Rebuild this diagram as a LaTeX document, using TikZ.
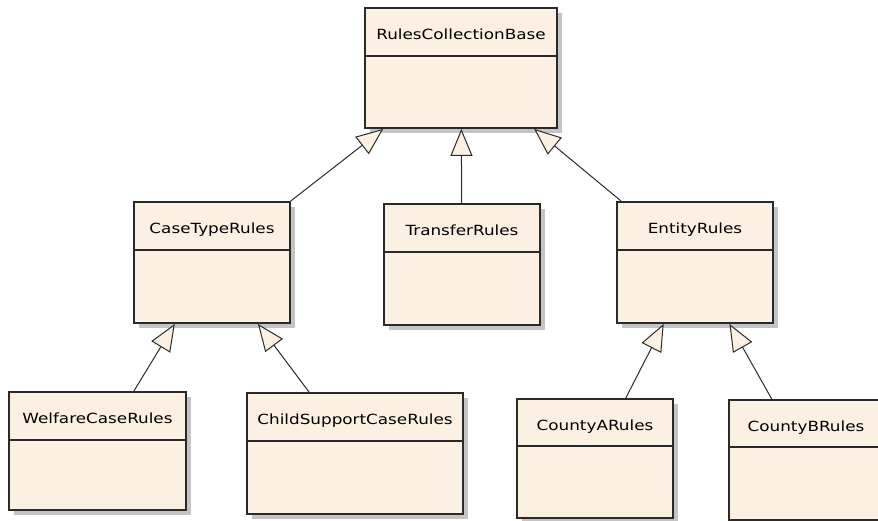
\documentclass[tikz,border=0pt]{standalone}
\usepackage{fontspec}
\usepackage{graphicx}
\setsansfont{DejaVu Sans}
\usetikzlibrary{arrows.meta,fit,shadows,calc}

\definecolor{boxfill}{HTML}{FBF0E2}
\definecolor{boxline}{HTML}{2A2A2A}
\definecolor{shadowgray}{HTML}{C4C4C4}

\tikzset{
  classbox/.style={draw=boxline, line width=1.8pt, fill=boxfill, inner sep=0pt,
    drop shadow={shadow xshift=5pt, shadow yshift=-5pt, fill=shadowgray, opacity=1}},
  classrule/.style={draw=boxline, line width=1.8pt},
  classtitle/.style={anchor=base, inner sep=0pt,
    font=\sffamily\fontsize{14}{16}\selectfont, text=black},
  inherit/.style={draw=boxline, line width=1pt,
    -{Triangle[length=27pt, width=22pt, fill=boxfill, line width=1pt]}},
}

% UML class box: name, left, top, right, separator y, bottom, title
\newcommand\umlclass[7]{%
  \node[classbox, fit={(#2,#3) (#4,#6)}] (#1) {};
  \draw[classrule] (#2,#5) -- (#4,#5);
  \node[classtitle] (#1-title) at ($(#1.north)+(0,32.5)$) {\scalebox{1.2}[1]{#7}};
}

\begin{document}
\begin{tikzpicture}[x=1pt, y=-1pt]
  \useasboundingbox (0,0) rectangle (878,521);
  \clip (0,0) rectangle (878,521);

  \umlclass{base}{365}{8}{557}{56}{128}{RulesCollectionBase}
  \umlclass{casetype}{134}{202}{290}{250}{323}{CaseTypeRules}
  \umlclass{transfer}{384}{204}{540}{252}{325}{TransferRules}
  \umlclass{entity}{617}{202}{773}{250}{323}{EntityRules}
  \umlclass{welfare}{9}{392}{186}{440}{510}{WelfareCaseRules}
  \umlclass{child}{247}{393}{463}{441}{514}{ChildSupportCaseRules}
  \umlclass{countya}{517}{399}{673}{446}{518}{CountyARules}
  \umlclass{countyb}{729}{400}{883}{447}{520}{CountyBRules}

  % generalisation arrows
  \draw[inherit] (casetype) -- (base);
  \draw[inherit] (transfer) -- (base);
  \draw[inherit] (entity) -- (base);
  \draw[inherit] (welfare) -- (casetype);
  \draw[inherit] (child) -- (casetype);
  \draw[inherit] (countya) -- (entity);
  \draw[inherit] (countyb) -- (entity);
\end{tikzpicture}
\end{document}
